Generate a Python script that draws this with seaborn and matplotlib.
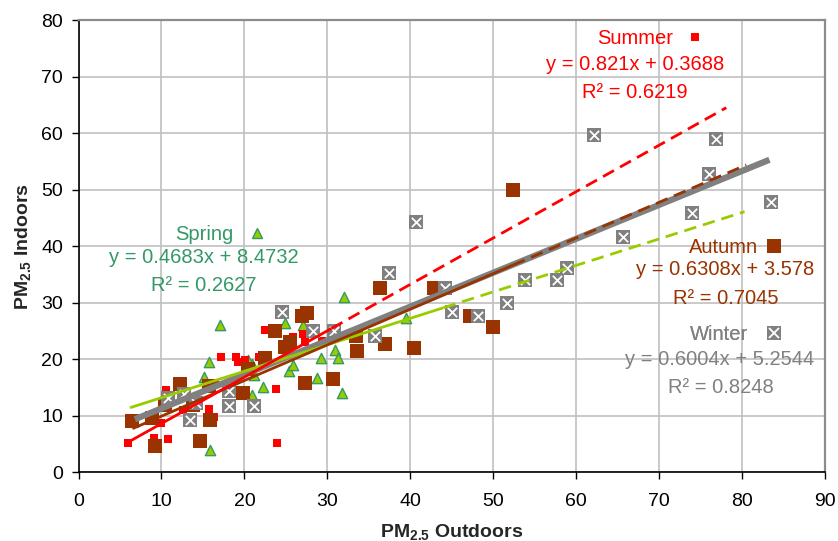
import numpy as np
import pandas as pd
import matplotlib
matplotlib.use("Agg")
import matplotlib.pyplot as plt
from matplotlib.lines import Line2D
import seaborn as sns

# ---------------- data ----------------
seasons = ["Spring", "Summer", "Autumn", "Winter"]

spring_x = [15.7, 15.1, 15.9, 17.1, 20.9, 20.4, 21.2, 20.9, 22.2, 24.9, 27.1, 25.4, 25.9,
            28.7, 29.2, 30.9, 31.3, 31.8, 32.0, 39.5]
spring_y = [19.4, 16.8, 3.9, 26.1, 19.2, 19.8, 17.2, 13.6, 15.0, 26.3, 26.0, 17.9, 18.9,
            16.6, 20.2, 21.6, 20.2, 13.9, 30.9, 27.2]

summer_x = [6.0, 9.1, 10.8, 10.0, 10.6, 12.6, 15.7, 16.3, 16.5, 17.2, 19.0, 19.2, 20.1,
            21.7, 22.5, 23.8, 24.7, 25.9, 27.1, 27.3, 29.3, 23.9]
summer_y = [5.2, 6.0, 5.8, 8.6, 14.5, 11.0, 11.2, 9.7, 15.6, 20.4, 20.4, 19.5, 19.8,
            20.4, 25.1, 14.7, 22.5, 23.9, 24.5, 23.1, 23.2, 5.1]

autumn_x = [6.5, 8.8, 9.2, 10.4, 12.2, 13.8, 14.7, 15.9, 15.7, 19.8, 20.4, 22.5, 23.7,
            24.9, 25.5, 26.9, 27.5, 27.3, 30.7, 33.4, 33.6, 36.4, 36.9, 40.5, 42.8,
            47.2, 50.0, 52.4]
autumn_y = [9.1, 9.6, 4.6, 11.9, 15.6, 11.9, 5.5, 9.2, 15.3, 13.9, 18.2, 20.2, 25.0,
            22.2, 23.1, 27.6, 28.2, 15.8, 16.4, 24.0, 21.5, 32.5, 22.7, 22.0, 32.5,
            27.7, 25.6, 49.9]

winter_x = [10.8, 12.7, 14.2, 13.4, 18.2, 18.2, 21.2, 24.5, 28.3, 30.8, 35.8, 37.4, 40.7,
            44.2, 45.0, 48.2, 51.7, 53.8, 57.7, 58.9, 62.2, 65.7, 74.0, 76.0, 76.8, 83.5]
winter_y = [13.1, 13.8, 12.2, 9.2, 14.3, 11.7, 11.7, 28.4, 25.0, 25.0, 24.1, 35.2, 44.3,
            32.5, 28.4, 27.7, 29.9, 34.0, 34.0, 36.1, 59.6, 41.6, 45.8, 52.7, 58.9, 47.8]

# trend lines (Excel linear fits shown on the chart)
trend_slope = [0.4683, 0.821, 0.6308, 0.6004]
trend_intercept = [8.4732, 0.3688, 3.578, 5.2544]
trend_r2 = ["0.2627", "0.6219", "0.7045", "0.8248"]
trend_x_start = [6.2, 6.0, 6.5, 6.8]
trend_x_fit_end = [44.0, 30.5, 52.4, 83.3]
trend_x_forecast_end = [80.3, 78.1, 80.5, None]

x_ticks = [0, 10, 20, 30, 40, 50, 60, 70, 80, 90]
y_ticks = [0, 10, 20, 30, 40, 50, 60, 70, 80]

# ---------------- style ----------------
sns.set_theme(style="white")
plt.rcParams["font.family"] = ["Liberation Sans", "DejaVu Sans"]
plt.rcParams["mathtext.fontset"] = "custom"
plt.rcParams["mathtext.rm"] = "Liberation Sans:bold"
plt.rcParams["mathtext.default"] = "rm"

colors = {"Spring": "#99CC00", "Summer": "#FF0000", "Autumn": "#993300", "Winter": "#808080"}
text_colors = {"Spring": "#339966", "Summer": "#FF0000", "Autumn": "#993300", "Winter": "#808080"}

fig = plt.figure(figsize=(8.38, 5.41), dpi=100)
ax = fig.add_axes([0.0937, 0.1275, 0.9845 - 0.0937, 0.963 - 0.1275])

df = pd.concat([
    pd.DataFrame({"x": spring_x, "y": spring_y, "season": "Spring"}),
    pd.DataFrame({"x": summer_x, "y": summer_y, "season": "Summer"}),
    pd.DataFrame({"x": autumn_x, "y": autumn_y, "season": "Autumn"}),
    pd.DataFrame({"x": winter_x, "y": winter_y, "season": "Winter"}),
], ignore_index=True)

# markers
sns.scatterplot(data=df[df.season == "Spring"], x="x", y="y", marker="^", s=55,
                color=colors["Spring"], edgecolor="#339966", linewidth=1.0, ax=ax, zorder=3)
sns.scatterplot(data=df[df.season == "Summer"], x="x", y="y", marker="s", s=34,
                color=colors["Summer"], edgecolor=colors["Summer"], linewidth=0, ax=ax, zorder=3)
sns.scatterplot(data=df[df.season == "Autumn"], x="x", y="y", marker="s", s=90,
                color=colors["Autumn"], edgecolor=colors["Autumn"], linewidth=0, ax=ax, zorder=3)
sns.scatterplot(data=df[df.season == "Winter"], x="x", y="y", marker="s", s=100,
                color=colors["Winter"], edgecolor=colors["Winter"], linewidth=0, ax=ax, zorder=3)
sns.scatterplot(data=df[df.season == "Winter"], x="x", y="y", marker="x", s=45,
                color="white", linewidth=1.3, ax=ax, zorder=3)

# trend lines
line_w = {"Spring": 2.0, "Summer": 2.0, "Autumn": 2.0, "Winter": 4.5}
line_z = {"Winter": 4, "Spring": 5, "Autumn": 6, "Summer": 7}
for i, s in enumerate(seasons):
    m, b = trend_slope[i], trend_intercept[i]
    xs = [trend_x_start[i], trend_x_fit_end[i]]
    seg = pd.DataFrame({"x": xs, "y": [m * v + b for v in xs]})
    sns.lineplot(data=seg, x="x", y="y", color=colors[s], lw=line_w[s], ax=ax,
                 zorder=line_z[s], solid_capstyle="butt")
    if trend_x_forecast_end[i] is not None:
        xf = [trend_x_fit_end[i], trend_x_forecast_end[i]]
        segf = pd.DataFrame({"x": xf, "y": [m * v + b for v in xf]})
        sns.lineplot(data=segf, x="x", y="y", color=colors[s], lw=line_w[s], ax=ax,
                     zorder=line_z[s], dashes=False)
        ax.lines[-1].set_linestyle((0, (4.5, 2.5)))

# axes
ax.set_xlim(0, 90)
ax.set_ylim(0, 80)
ax.set_xticks(x_ticks)
ax.set_yticks(y_ticks)
ax.tick_params(axis="both", labelsize=14, direction="out", length=5, width=1,
               bottom=True, left=True, colors="black")
ax.tick_params(axis="x", pad=10)
ax.tick_params(axis="y", pad=6)
ax.grid(True, color="#C0C0C0", lw=1.2)
ax.set_axisbelow(True)
for side in ["left", "bottom"]:
    ax.spines[side].set_color("black")
    ax.spines[side].set_linewidth(1.2)
for side in ["top", "right"]:
    ax.spines[side].set_color("#8C8C8C")
    ax.spines[side].set_linewidth(1.6)

ax.set_xlabel(r"PM$_{2.5}$ Outdoors", fontsize=14, fontweight="bold", labelpad=9)
ax.set_ylabel(r"PM$_{2.5}$ Indoors", fontsize=14, fontweight="bold", labelpad=6)

# labels: season name + key, equation, R^2
key_pos = {"Spring": (22.3, 42.1), "Summer": (75.1, 76.8),
           "Autumn": (84.6, 39.8), "Winter": (84.6, 24.4)}
key_pad = {"Spring": 0.9, "Summer": 0.8, "Autumn": 0.5, "Winter": 1.0}
eq_pos = {"Spring": (15.1, 37.9), "Summer": (67.1, 72.1),
          "Autumn": (78.0, 35.8), "Winter": (77.3, 20.0)}
r2_pos = {"Spring": (15.1, 33.1), "Summer": (67.1, 67.2),
          "Autumn": (78.0, 30.8), "Winter": (77.4, 15.0)}

handles = {
    "Spring": Line2D([], [], marker="^", ls="none", markersize=7.4,
                     markerfacecolor=colors["Spring"], markeredgecolor="#339966", markeredgewidth=1),
    "Summer": Line2D([], [], marker="s", ls="none", markersize=5.8,
                     markerfacecolor=colors["Summer"], markeredgewidth=0),
    "Autumn": Line2D([], [], marker="s", ls="none", markersize=9.5,
                     markerfacecolor=colors["Autumn"], markeredgewidth=0),
    "Winter": (Line2D([], [], marker="s", ls="none", markersize=10,
                      markerfacecolor=colors["Winter"], markeredgewidth=0),
               Line2D([], [], marker="x", ls="none", markersize=6.7,
                      markeredgecolor="white", markeredgewidth=1.3)),
}

for i, s in enumerate(seasons):
    leg = ax.legend([handles[s]], [s], loc="center right", bbox_to_anchor=key_pos[s],
                    bbox_transform=ax.transData, frameon=False, markerfirst=False,
                    handletextpad=key_pad[s], handlelength=0.6, borderpad=0, borderaxespad=0,
                    fontsize=14.5, labelcolor=text_colors[s])
    leg.set_zorder(10)
    ax.add_artist(leg)
    ax.text(*eq_pos[s], f"y = {trend_slope[i]}x + {trend_intercept[i]}", ha="center",
            va="center", fontsize=14.5, color=text_colors[s], zorder=10)
    ax.text(*r2_pos[s], f"R² = {trend_r2[i]}", ha="center", va="center",
            fontsize=14.5, color=text_colors[s], zorder=10)

fig.savefig("out.png", dpi=100)
